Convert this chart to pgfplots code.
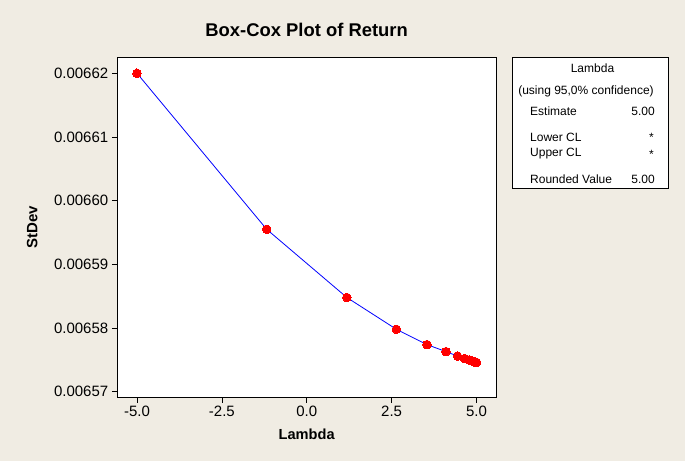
\documentclass[border=0pt]{standalone}
\usepackage{fontspec}
\setmainfont{Liberation Sans}
\usepackage{pgfplots}
\pgfplotsset{compat=1.18}
\definecolor{bgbeige}{RGB}{240,236,227}
\definecolor{ptred}{RGB}{255,0,0}
\definecolor{lnblue}{RGB}{0,0,255}
\begin{document}
\begin{tikzpicture}
\fill[bgbeige] (0,0) rectangle (685pt,461pt);
\begin{axis}[
  at={(117.3pt,64pt)}, anchor=south west,
  scale only axis,
  width=378.7pt, height=339.7pt,
  xmin=-5.58, xmax=5.574,
  ymin=0.00656917, ymax=0.00662251,
  axis background/.style={fill=white},
  axis line style={black, line width=0.8pt},
  tick align=outside,
  xtick pos=bottom, ytick pos=left,
  major tick length=5.5pt,
  tick style={black, line width=0.7pt},
  xtick={-5,-2.5,0,2.5,5},
  xticklabels={-5.0,-2.5,0.0,2.5,5.0},
  ytick={0.00657,0.00658,0.00659,0.00660,0.00661,0.00662},
  yticklabels={0.00657,0.00658,0.00659,0.00660,0.00661,0.00662},
  ticklabel style={font=\fontsize{15}{18}\selectfont},
  scaled y ticks=false,
  title={Box-Cox Plot of Return},
  title style={font=\fontsize{18.4}{22}\selectfont\bfseries, at={(axis description cs:0.5,1.064)}, anchor=center},
  xlabel={Lambda},
  xlabel style={font=\fontsize{14.6}{18}\selectfont\bfseries, at={(axis description cs:0.5,-0.109)}, anchor=center},
  ylabel={StDev},
  ylabel style={font=\fontsize{15}{18}\selectfont\bfseries, at={(axis description cs:-0.225,0.5)}, anchor=center, rotate=0},
  clip=false,
]
\addplot[lnblue, line width=0.8pt, mark=*, mark size=4.3pt,
  mark options={fill=ptred, draw=ptred, line width=0pt}]
  coordinates {
  (-5.00, 0.0066200)
  (-1.18, 0.0065955)
  (1.18, 0.0065848)
  (2.64, 0.0065798)
  (3.54, 0.0065774)
  (4.10, 0.0065763)
  (4.44, 0.0065756)
  (4.65, 0.0065752)
  (4.79, 0.0065750)
  (4.87, 0.0065748)
  (4.92, 0.0065747)
  (4.95, 0.0065747)
  (4.97, 0.0065746)
  (4.98, 0.0065746)
  (4.99, 0.0065746)
  (5.00, 0.0065746)
  };
\end{axis}
\draw[black, line width=0.8pt, fill=white] (512.7pt,273pt) rectangle (668pt,403.7pt);
\begin{scope}[every node/.style={font=\fontsize{12}{14}\selectfont, inner sep=0pt}]
\node[anchor=center] at (592.5pt,392.7pt) {Lambda};
\node[anchor=center] at (586pt,369.3pt) {(using 95,0\% confidence)};
\node[anchor=west] at (530pt,349.3pt) {Estimate};
\node[anchor=east] at (655pt,349.3pt) {5.00};
\node[anchor=west] at (530pt,323.7pt) {Lower CL};
\node[anchor=east] at (654pt,323.7pt) {*};
\node[anchor=west] at (530pt,307pt) {Upper CL};
\node[anchor=east] at (654pt,307pt) {*};
\node[anchor=west] at (530pt,281.7pt) {Rounded Value};
\node[anchor=east] at (655pt,281.7pt) {5.00};
\end{scope}
\pgfresetboundingbox
\path[use as bounding box] (0,0) rectangle (685pt,461pt);
\end{tikzpicture}
\end{document}
